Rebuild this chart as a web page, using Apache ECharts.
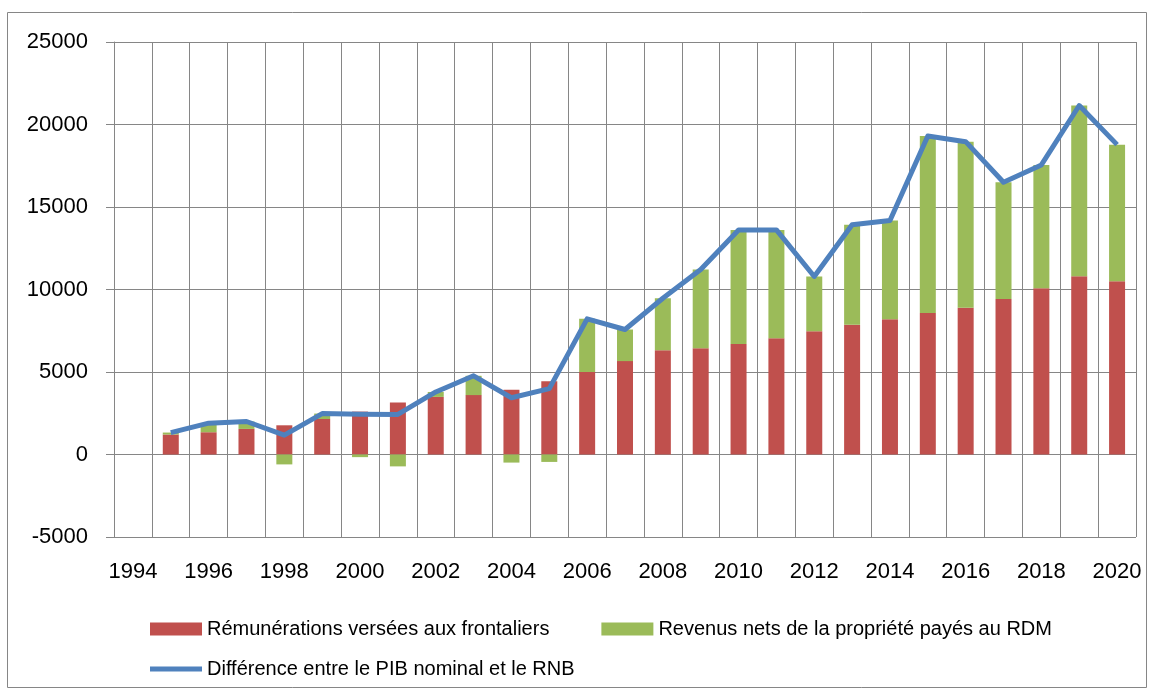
<!DOCTYPE html>
<html>
<head>
<meta charset="utf-8">
<script src="https://cdn.jsdelivr.net/npm/echarts@6/dist/echarts.min.js"></script>
<style>
html,body{margin:0;padding:0;background:#fff;}
#chart{width:1153px;height:690px;}
</style>
</head>
<body>
<div id="chart"></div>
<script>
var years = ['1994','1995','1996','1997','1998','1999','2000','2001','2002','2003','2004','2005','2006','2007','2008','2009','2010','2011','2012','2013','2014','2015','2016','2017','2018','2019','2020'];
var remunerations = [null,1210,1350,1550,1770,2150,2600,3150,3490,3600,3930,4440,5000,5660,6320,6440,6690,7050,7470,7860,8200,8570,8890,9430,10080,10810,10500];
var revenusNets = [null,120,550,450,-600,330,-160,-720,300,1170,-490,-450,3220,1915,3150,4770,6920,6560,3320,6060,5980,10730,10070,7070,7470,10340,8280];
var difference = [null,1330,1900,2000,1170,2480,2440,2430,3790,4770,3440,3990,8220,7575,9470,11210,13610,13610,10790,13920,14180,19300,18960,16500,17550,21150,18780];
var yTicks = {min:-5000, max:25000, interval:5000};

var names = ['Rémunérations versées aux frontaliers','Revenus nets de la propriété payés au RDM','Différence entre le PIB nominal et le RNB'];
var font = 'Liberation Sans';
var gridColor = '#868686';

var chart = echarts.init(document.getElementById('chart'), null, {renderer:'canvas'});
chart.setOption({
  animation:false,
  backgroundColor:'#ffffff',
  textStyle:{fontFamily:font},
  graphic:[{type:'rect', shape:{x:7.5,y:12.5,width:1139,height:675}, style:{fill:'none', stroke:gridColor, lineWidth:1}, silent:true, z:-1}],
  grid:{left:114, right:17, top:42, bottom:153},
  legend:[
    {data:[names[0],names[1]], left:145, top:614, itemWidth:52, itemHeight:13, itemGap:52, icon:'rect',
     textStyle:{fontSize:20, color:'#000', fontFamily:font}},
    {data:[{name:names[2], icon:'rect'}], left:145, top:654, itemWidth:52, itemHeight:5, icon:'rect',
     textStyle:{fontSize:20, color:'#000', fontFamily:font}}
  ],
  xAxis:{
    type:'category', data:years, boundaryGap:true,
    axisLine:{show:true, lineStyle:{color:gridColor, width:1}},
    axisTick:{show:false},
    axisLabel:{interval:1, margin:24, fontSize:22, color:'#000', fontFamily:font},
    splitLine:{show:true, interval:0, lineStyle:{color:gridColor, width:1}}
  },
  yAxis:{
    type:'value', min:yTicks.min, max:yTicks.max, interval:yTicks.interval,
    axisLine:{show:true, lineStyle:{color:gridColor, width:1}},
    axisTick:{show:true, inside:false, length:8, lineStyle:{color:gridColor}},
    axisLabel:{margin:26, fontSize:22, color:'#000', fontFamily:font, formatter:function(v){return String(v);}},
    splitLine:{show:true, lineStyle:{color:gridColor, width:1}}
  },
  series:[
    {name:names[0], type:'bar', stack:'total', data:remunerations, barWidth:16, itemStyle:{color:'#C0504D'}},
    {name:names[1], type:'bar', stack:'total', data:revenusNets, barWidth:16, itemStyle:{color:'#9BBB59'}},
    {name:names[2], type:'line', data:difference, symbol:'none', showSymbol:false, connectNulls:false,
     lineStyle:{color:'#4F81BD', width:5, join:'round'}, itemStyle:{color:'#4F81BD'}, z:5}
  ]
});
</script>
</body>
</html>
